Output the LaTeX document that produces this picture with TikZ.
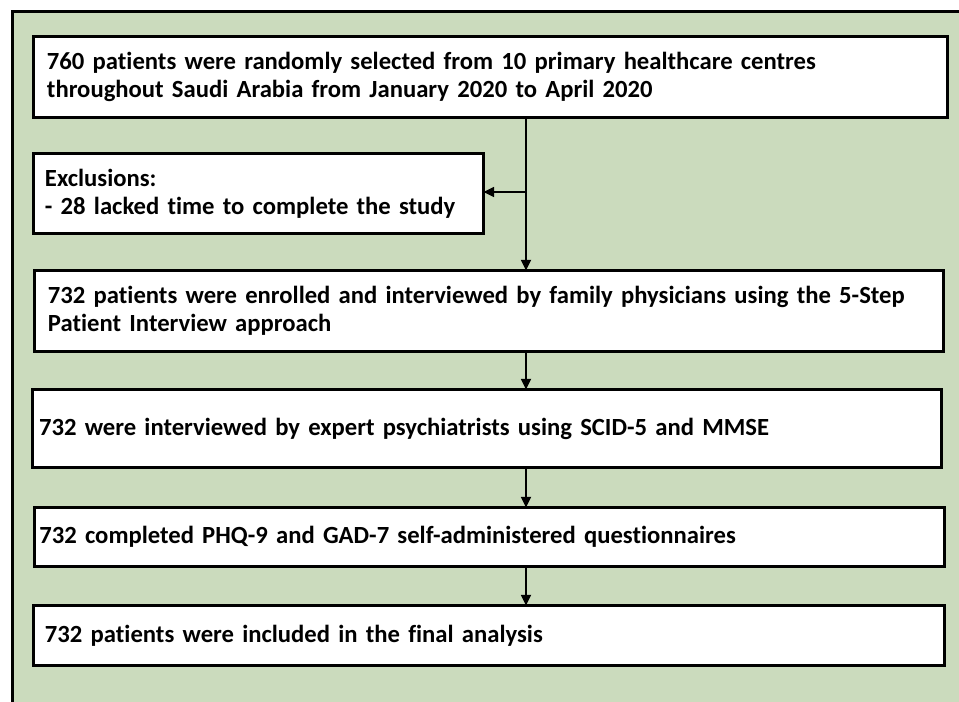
\documentclass[tikz,border=0pt]{standalone}
\usepackage{fontspec}
\setmainfont{Carlito}[Ligatures=NoCommon]
\usetikzlibrary{arrows.meta}
\definecolor{bggreen}{RGB}{203,219,189}
\begin{document}
\begin{tikzpicture}[x=0.75pt,y=-0.75pt,
    flowbox/.style={draw,fill=white,line width=2.25pt,anchor=north west,outer sep=0pt,
        align=left,font=\bfseries\fontsize{18.5}{21}\selectfont},
    flowarrow/.style={line width=1.3pt,-{Triangle[length=8pt,width=7.5pt]}}]
    \useasboundingbox (0,0) rectangle (959,702);
    % green panel, cut at right and bottom
    \fill[bggreen] (12,12) rectangle (959,702);
    \draw[line width=2.25pt] (12,702) -- (12,12) -- (959,12);
    \node[flowbox,text width=665.3pt,inner xsep=10.1pt,minimum height=60.75pt] (select) at (33.5,36.5)
        {760 patients were randomly selected from 10 primary healthcare centres\\
         throughout Saudi Arabia from January 2020 to April 2020};
    \node[flowbox,text width=320.3pt,inner xsep=8.6pt,minimum height=60pt] (excl) at (33.5,153.5)
        {Exclusions:\\- 28 lacked time to complete the study};
    \node[flowbox,text width=661.5pt,inner xsep=10.1pt,minimum height=60.4pt] (enrol) at (34.5,270.5)
        {732 patients were enrolled and interviewed by family physicians using the 5-Step\\
         Patient Interview approach};
    \node[flowbox,text width=671.9pt,inner xsep=4.9pt,minimum height=58.5pt] (psych) at (32.5,389.5)
        {732 were interviewed by expert psychiatrists using SCID-5 and MMSE};
    \node[flowbox,text width=675.3pt,inner xsep=3.6pt,minimum height=44.25pt] (quest) at (34.5,507.5)
        {732 completed PHQ-9 and GAD-7 self-administered questionnaires};
    \node[flowbox,text width=666pt,inner xsep=8.6pt,minimum height=45pt] (final) at (33.5,605.5)
        {732 patients were included in the final analysis};
    \coordinate (split) at (526,192);
    \draw[flowarrow] (select.south -| split) -- (enrol.north -| split);
    \draw[flowarrow] (split) -- (split -| excl.east);
    \draw[flowarrow] (enrol.south -| split) -- (psych.north -| split);
    \draw[flowarrow] (psych.south -| split) -- (quest.north -| split);
    \draw[flowarrow] (quest.south -| split) -- (final.north -| split);
\end{tikzpicture}
\end{document}
